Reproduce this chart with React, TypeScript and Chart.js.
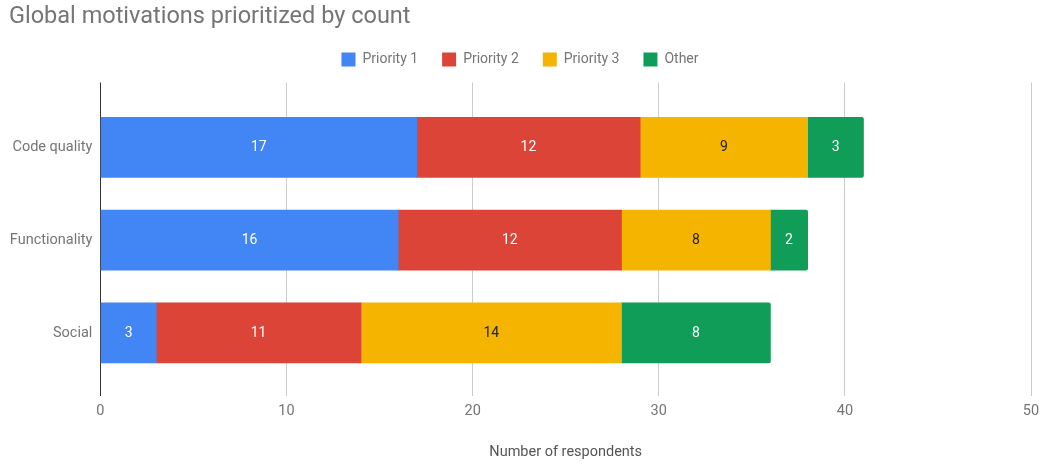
import React, { useEffect, useRef } from "react";
import { Chart, registerables } from "chart.js";

Chart.register(...registerables);

const categories = ["Code quality", "Functionality", "Social"];
const seriesNames = ["Priority 1", "Priority 2", "Priority 3", "Other"];
const priority1 = [17, 16, 3];
const priority2 = [12, 12, 11];
const priority3 = [9, 8, 14];
const other = [3, 2, 8];
const seriesColors = ["#4285F4", "#DB4437", "#F4B400", "#0F9D58"];
const labelColors = ["#ffffff", "#ffffff", "#222222", "#ffffff"];
const xTicks = [0, 10, 20, 30, 40, 50];

const dataLabels = {
  id: "dataLabels",
  afterDatasetsDraw(chart: any) {
    const ctx = chart.ctx;
    ctx.save();
    ctx.font = "14px Roboto";
    ctx.textAlign = "center";
    ctx.textBaseline = "middle";
    chart.data.datasets.forEach((ds: any, di: number) => {
      const meta = chart.getDatasetMeta(di);
      meta.data.forEach((el: any, i: number) => {
        const v = ds.data[i].x;
        const cx = (el.x + el.base) / 2;
        ctx.fillStyle = labelColors[di];
        ctx.fillText(String(v), cx, el.y + 0.5);
      });
    });
    ctx.restore();
  },
};

export default function App() {
  const ref = useRef<HTMLCanvasElement | null>(null);
  useEffect(() => {
    document.body.style.margin = "0";
    Chart.defaults.font.family = "Roboto";
    const seriesValues = [priority1, priority2, priority3, other];
    const chart = new Chart(ref.current as HTMLCanvasElement, {
      type: "bar",
      data: {
        datasets: seriesNames.map((name, si) => ({
          label: name,
          data: seriesValues[si].map((v, i) => ({ x: v, y: i })),
          backgroundColor: seriesColors[si],
          borderWidth: 0,
          borderRadius: 2,
          barThickness: 60,
          xAxisID: "x",
          yAxisID: "y",
        })),
      },
      options: {
        indexAxis: "y",
        animation: false,
        responsive: true,
        maintainAspectRatio: false,
        layout: { padding: { left: 9, right: 12, top: 0, bottom: 0 } },
        plugins: {
          title: {
            display: true,
            text: "Global motivations prioritized by count",
            align: "start",
            color: "#757575",
            font: { size: 23.5, weight: "normal", lineHeight: 1 },
            padding: { top: 5, bottom: 0 },
          },
          legend: {
            display: true,
            position: "top",
            labels: {
              color: "#757575",
              font: { size: 14 },
              boxWidth: 14,
              boxHeight: 14,
              padding: 24,
            },
          },
          tooltip: { enabled: false },
        },
        scales: {
          x: {
            type: "linear",
            position: "bottom",
            stacked: true,
            min: 0,
            max: 50,
            afterBuildTicks: (s: any) => {
              s.ticks = xTicks.map((v) => ({ value: v }));
            },
            afterFit: (s: any) => {
              s.height = 68;
              s.paddingLeft = 0;
              s.paddingRight = 0;
            },
            ticks: { color: "#757575", font: { size: 14.5 }, padding: 7 },
            grid: {
              drawTicks: false,
              color: (c: any) => (c.tick && c.tick.value === 0 ? "#333333" : "#cccccc"),
              lineWidth: 1,
            },
            border: { display: false },
            title: {
              display: true,
              text: "Number of respondents",
              color: "#555555",
              font: { size: 14.5 },
              padding: { top: 0, bottom: 2.5 },
            },
          },
          xTop: {
            type: "linear",
            position: "top",
            display: true,
            min: 0,
            max: 50,
            ticks: { display: false },
            grid: { display: false, drawTicks: false },
            border: { display: false },
            afterFit: (s: any) => {
              s.height = 6;
              s.paddingLeft = 0;
              s.paddingRight = 0;
            },
          },
          y: {
            type: "linear",
            stacked: true,
            reverse: true,
            offset: false,
            min: -0.7,
            max: 2.68,
            afterBuildTicks: (s: any) => {
              s.ticks = categories.map((_, i) => ({ value: i }));
            },
            afterFit: (s: any) => {
              s.width = 91.4;
              s.paddingTop = 0;
              s.paddingBottom = 0;
            },
            ticks: {
              color: "#757575",
              font: { size: 14.5 },
              padding: 8,
              autoSkip: false,
              callback: (v: any) => categories[Math.round(Number(v))] ?? "",
            },
            grid: { display: false, drawTicks: false, offset: false },
            border: { display: false },
          },
        },
      } as any,
      plugins: [dataLabels],
    });
    return () => chart.destroy();
  }, []);
  return (
    <div style={{ position: "relative", width: 1043, height: 464 }}>
      <canvas ref={ref} />
    </div>
  );
}
